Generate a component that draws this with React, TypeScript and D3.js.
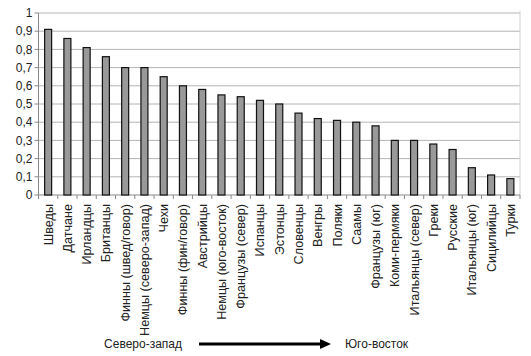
import React from "react";
import * as d3 from "d3";

const categories = [
  "Шведы", "Датчане", "Ирландцы", "Британцы", "Финны (швед/говор)",
  "Немцы (северо-запад)", "Чехи", "Финны (фин/говор)", "Австрийцы",
  "Немцы (юго-восток)", "Французы (север)", "Испанцы", "Эстонцы", "Словенцы",
  "Венгры", "Поляки", "Саамы", "Французы (юг)", "Коми-пермяки",
  "Итальянцы (север)", "Греки", "Русские", "Итальянцы (юг)", "Сицилийцы", "Турки",
];
const values = [
  0.91, 0.86, 0.81, 0.76, 0.70, 0.70, 0.65, 0.60, 0.58, 0.55, 0.54, 0.52, 0.50,
  0.45, 0.42, 0.41, 0.40, 0.38, 0.30, 0.30, 0.28, 0.25, 0.15, 0.11, 0.09,
];
const yTicks = [0, 0.1, 0.2, 0.3, 0.4, 0.5, 0.6, 0.7, 0.8, 0.9, 1];
const leftLabel = "Северо-запад";
const rightLabel = "Юго-восток";

export default function App() {
  const W = 531, H = 356;
  const left = 38.5, right = 520, top = 13, bottom = 195;
  const x = d3.scaleBand<string>().domain(categories).range([left, right]).paddingInner(0).paddingOuter(0);
  const y = d3.scaleLinear().domain([0, 1]).range([bottom, top]);
  const bw = 7;
  const font = "'Liberation Sans', Arial, sans-serif";
  const fmt = (v: number) => (v === 0 || v === 1 ? String(v) : v.toFixed(1).replace(".", ","));
  return (
    <svg width={W} height={H} style={{ position: "absolute", left: 0, top: 0, background: "#fff" }}>
      {yTicks.map((t) => (
        <g key={t}>
          {t > 0 && <line x1={left} x2={right} y1={y(t)} y2={y(t)} stroke="#b4b4b4" strokeWidth={1} />}
          <line x1={left - 4} x2={left} y1={y(t)} y2={y(t)} stroke="#888" strokeWidth={1} />
          <text x={left - 6} y={y(t)} dy="0.35em" textAnchor="end" fontFamily={font} fontSize={12} fill="#222">
            {fmt(t)}
          </text>
        </g>
      ))}
      <line x1={right} x2={right} y1={top - 2} y2={bottom} stroke="#d0d0d0" strokeWidth={1} />
      <line x1={left} x2={left} y1={top} y2={bottom} stroke="#888" strokeWidth={1} />
      {categories.map((c, i) => {
        const x0 = x(c)!;
        return (
          <line key={"t" + i} x1={x0} x2={x0} y1={bottom} y2={bottom + 4} stroke="#888" strokeWidth={1} />
        );
      })}
      <line x1={right} x2={right} y1={bottom} y2={bottom + 4} stroke="#888" strokeWidth={1} />
      <line x1={left} x2={right} y1={bottom} y2={bottom} stroke="#888" strokeWidth={1} />
      {categories.map((c, i) => {
        const cx = x(c)! + x.bandwidth() / 2;
        return (
          <rect key={c} x={cx - bw / 2} y={y(values[i])} width={bw} height={bottom - y(values[i])}
            fill="#999" stroke="#111" strokeWidth={1.2} />
        );
      })}
      {categories.map((c) => {
        const cx = x(c)! + x.bandwidth() / 2;
        return (
          <text key={"l" + c} transform={`translate(${cx + 4.5},${bottom + 9}) rotate(-90)`} textAnchor="end"
            fontFamily={font} fontSize={12.6} fill="#222">
            {c}
          </text>
        );
      })}
      <text x={182} y={348} textAnchor="end" fontFamily={font} fontSize={12} fill="#222">{leftLabel}</text>
      <line x1={199} x2={322} y1={344} y2={344} stroke="#000" strokeWidth={3} />
      <path d="M320,339 L331,344 L320,349 Z" fill="#000" />
      <text x={345} y={348} fontFamily={font} fontSize={12} fill="#222">{rightLabel}</text>
    </svg>
  );
}
